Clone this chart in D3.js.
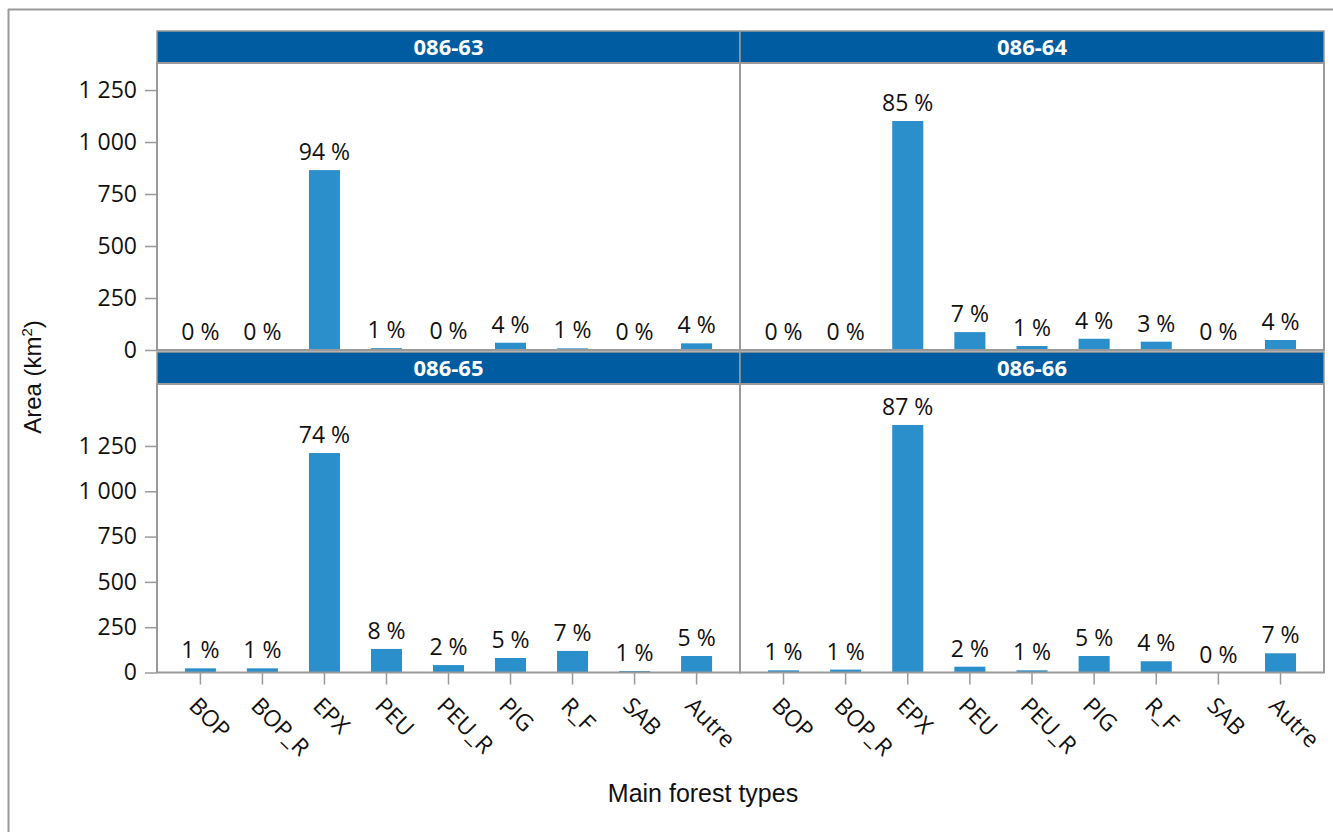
<!DOCTYPE html>
<html><head><meta charset="utf-8">
<script src="https://cdn.jsdelivr.net/npm/d3@7"></script>
<style>body{margin:0;background:#fff} svg{display:block}</style>
</head><body><svg id="chart" width="1333" height="832"></svg>
<script>
// ---- data ----
const categories = ["BOP","BOP_R","EPX","PEU","PEU_R","PIG","R_F","SAB","Autre"];
const panelNames = ["086-63","086-64","086-65","086-66"];
const area_086_63 = [0, 0, 865, 9, 3, 35, 8, 0, 32];
const area_086_64 = [0, 0, 1101, 86, 19, 54, 40, 0, 48];
const area_086_65 = [23, 23, 1211, 130, 41, 80, 119, 8, 91];
const area_086_66 = [12, 16, 1366, 32, 12, 91, 62, 0, 106];
const pct_086_63 = [0, 0, 94, 1, 0, 4, 1, 0, 4];
const pct_086_64 = [0, 0, 85, 7, 1, 4, 3, 0, 4];
const pct_086_65 = [1, 1, 74, 8, 2, 5, 7, 1, 5];
const pct_086_66 = [1, 1, 87, 2, 1, 5, 4, 0, 7];
const yTicks = [0, 250, 500, 750, 1000, 1250];
const yMaxByRow = [1380, 1592];
const xTitle = "Main forest types";

const areas = [area_086_63, area_086_64, area_086_65, area_086_66];
const pcts = [pct_086_63, pct_086_64, pct_086_65, pct_086_66];

// ---- layout ----
const svg = d3.select("#chart");
const grey = "#9a9a9a";
const barColor = "#2b8fcb";
const headColor = "#005ca1";
const tickFont = "'Open Sans', 'Noto Sans', sans-serif";
const titleFont = "'Liberation Sans', Arial, sans-serif";
const colX = [157, 740];
const colW = [583, 584];
const headTop = [31, 352];
const headH = 32;
const baseY = [350, 672.5];

const loc = d3.formatLocale({decimal: ",", thousands: " ", grouping: [3], currency: ["", ""]});
const fmt = loc.format(",d");

// outer frame
svg.append("line").attr("x1", 8.5).attr("x2", 8.5).attr("y1", 9).attr("y2", 832)
  .attr("stroke", grey).attr("stroke-width", 2);
svg.append("line").attr("x1", 8).attr("x2", 1333).attr("y1", 9.5).attr("y2", 9.5)
  .attr("stroke", grey).attr("stroke-width", 2);

panelNames.forEach((name, i) => {
  const col = i % 2, row = Math.floor(i / 2);
  const x0 = colX[col], w = colW[col];
  const top = headTop[row] + headH, bottom = baseY[row];
  const g = svg.append("g");

  const x = d3.scaleBand().domain(categories)
    .range([x0, x0 + w]).paddingInner(0.5).paddingOuter(0.45);
  const y = d3.scaleLinear().domain([0, yMaxByRow[row]]).range([bottom, top]);

  // header
  g.append("rect").attr("x", x0).attr("y", headTop[row]).attr("width", w).attr("height", headH)
    .attr("fill", headColor).attr("stroke", grey).attr("stroke-width", 1.5);
  g.append("text").attr("x", x0 + w / 2).attr("y", headTop[row] + headH / 2).attr("dy", "0.36em")
    .attr("text-anchor", "middle").attr("fill", "#fff").attr("font-weight", "bold")
    .attr("font-family", tickFont).attr("font-size", 22).text(name);

  // bars
  const data = categories.map((c, k) => ({c, v: areas[i][k], p: pcts[i][k]}));
  g.selectAll("rect.bar").data(data).join("rect").attr("class", "bar")
    .attr("x", d => x(d.c)).attr("width", x.bandwidth())
    .attr("y", d => y(d.v)).attr("height", d => y(0) - y(d.v))
    .attr("fill", barColor);

  // labels
  g.selectAll("text.lab").data(data).join("text").attr("class", "lab")
    .attr("x", d => x(d.c) + x.bandwidth() / 2).attr("y", d => y(d.v) - 10)
    .attr("text-anchor", "middle").attr("font-family", tickFont).attr("font-size", 23)
    .attr("fill", "#111").text(d => `${d.p} %`);

  // panel frame
  g.append("rect").attr("x", x0).attr("y", top).attr("width", w).attr("height", bottom - top)
    .attr("fill", "none").attr("stroke", grey).attr("stroke-width", 2);

  // y axis on left column
  if (col === 0) {
    const ya = g.append("g").attr("transform", `translate(${x0},0)`)
      .call(d3.axisLeft(y).tickValues(yTicks).tickFormat(fmt).tickSize(12).tickPadding(8));
    ya.select(".domain").remove();
    ya.selectAll(".tick line").attr("stroke", grey).attr("stroke-width", 1.5);
    ya.selectAll(".tick text").attr("font-family", tickFont).attr("font-size", 23).attr("fill", "#111");
  }
  // x axis on bottom row
  if (row === 1) {
    const xa = g.append("g").attr("transform", `translate(0,${bottom})`)
      .call(d3.axisBottom(x).tickSize(12).tickPadding(0));
    xa.select(".domain").remove();
    xa.selectAll(".tick line").attr("stroke", grey).attr("stroke-width", 1.5);
    xa.selectAll(".tick text")
      .attr("font-family", tickFont).attr("font-size", 23).attr("fill", "#111")
      .attr("text-anchor", "start").attr("y", 0).attr("x", 0).attr("dy", "0.35em")
      .attr("transform", "translate(-7,29) rotate(45)");
  }
});

// axis titles
svg.append("text").attr("x", 703).attr("y", 802).attr("text-anchor", "middle")
  .attr("font-family", titleFont).attr("font-size", 25)
  .attr("fill", "#111").text(xTitle);
const yt = svg.append("text").attr("transform", "translate(41,377) rotate(-90)")
  .attr("text-anchor", "middle")
  .attr("font-family", titleFont).attr("font-size", 24).attr("fill", "#111");
yt.append("tspan").text("Area (km");
yt.append("tspan").attr("font-size", 15).attr("dy", -9).text("2");
yt.append("tspan").attr("dy", 9).text(")");
</script></body></html>
